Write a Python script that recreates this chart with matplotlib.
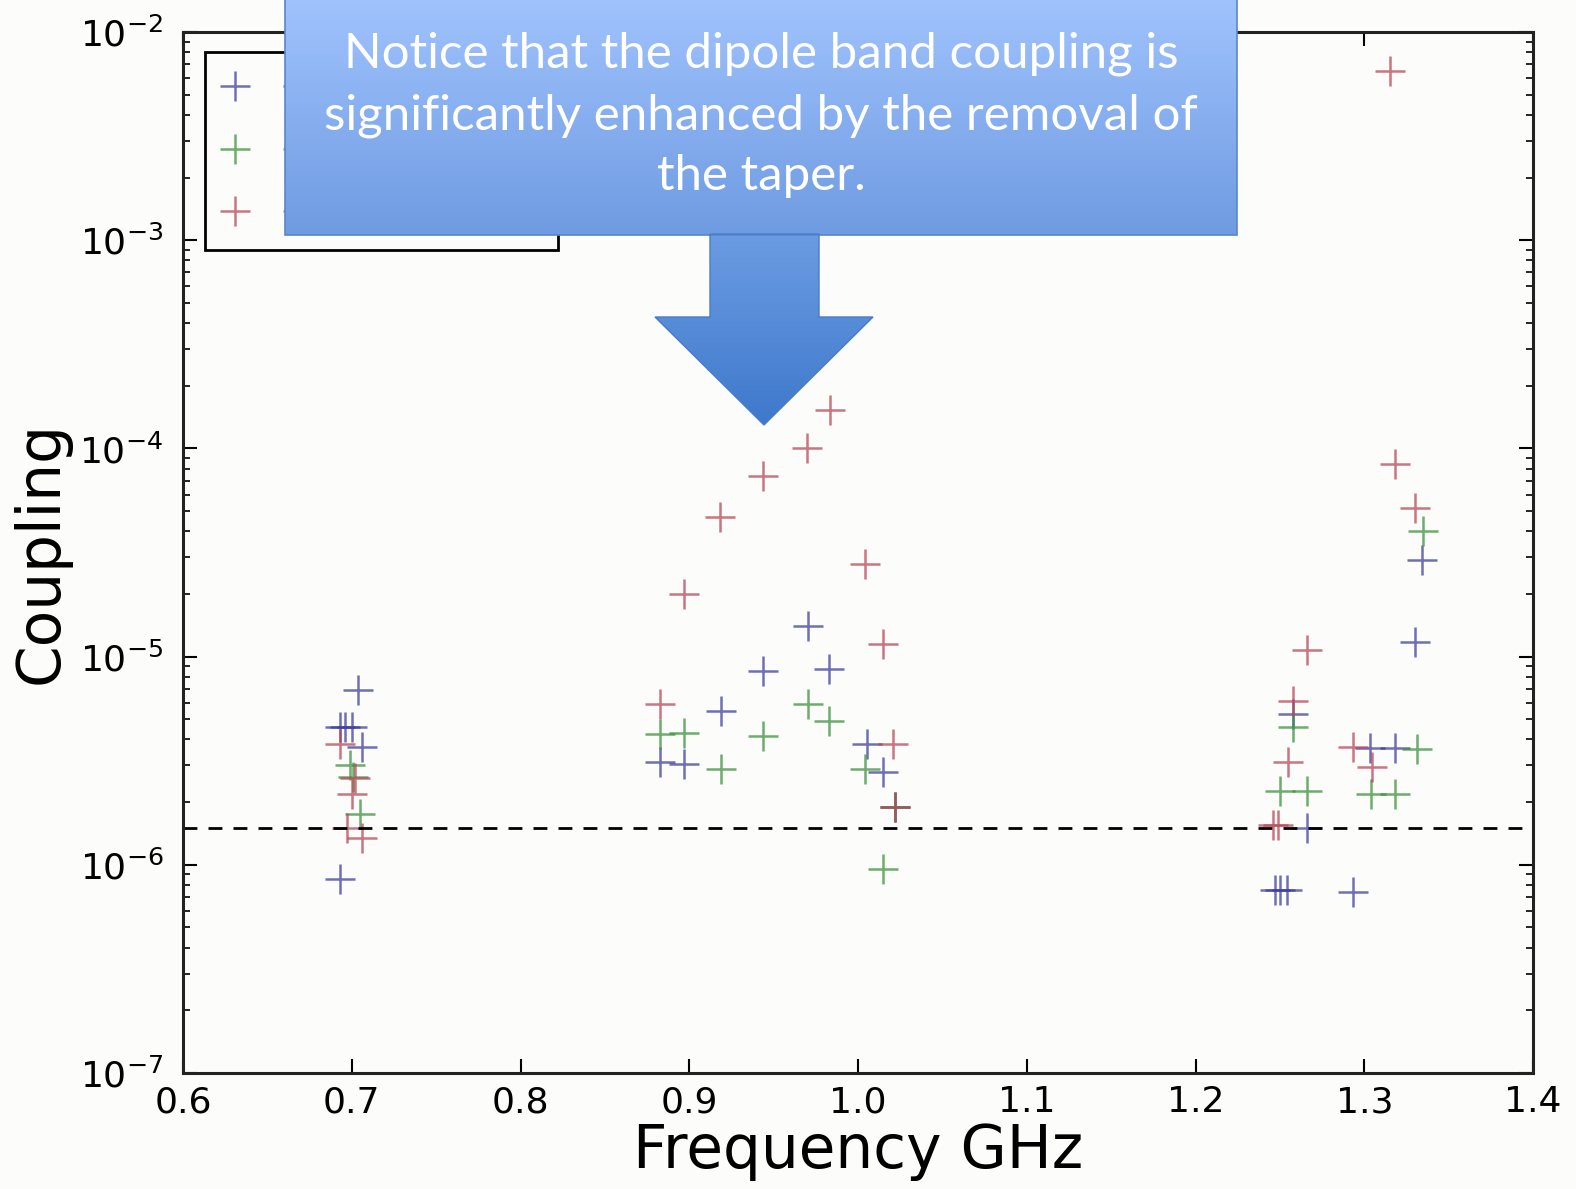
import numpy as np
import matplotlib
matplotlib.use('Agg')
import matplotlib.pyplot as plt
from matplotlib.colors import LinearSegmentedColormap
from matplotlib.patches import Polygon, Rectangle

# data (frequency GHz, coupling)
blue_f = [0.7037, 0.693, 0.696, 0.700, 0.706, 0.693,
          0.9704, 0.9437, 0.9828, 0.9188, 1.0053, 0.8827, 0.8969, 1.0148, 1.0219,
          1.3342, 1.330, 1.2578, 1.3034, 1.3182, 1.266, 1.247, 1.2501, 1.2542, 1.2933]
blue_c = [6.9e-6, 4.6e-6, 4.6e-6, 4.6e-6, 3.7e-6, 8.5e-7,
          1.4e-5, 8.5e-6, 8.7e-6, 5.5e-6, 3.8e-6, 3.1e-6, 3.05e-6, 2.8e-6, 1.9e-6,
          2.9e-5, 1.17e-5, 5.3e-6, 3.65e-6, 3.65e-6, 1.5e-6, 7.6e-7, 7.6e-7, 7.6e-7, 7.4e-7]

green_f = [0.699, 0.7007, 0.705,
           0.9704, 0.9828, 0.8827, 0.8969, 0.9437, 0.9188, 1.004, 1.0219, 1.0148,
           1.3348, 1.2578, 1.3313, 1.2501, 1.266, 1.304, 1.3182]
green_c = [3.0e-6, 2.65e-6, 1.75e-6,
           5.9e-6, 4.9e-6, 4.25e-6, 4.3e-6, 4.15e-6, 2.87e-6, 2.87e-6, 1.9e-6, 9.5e-7,
           4.0e-5, 4.6e-6, 3.6e-6, 2.25e-6, 2.25e-6, 2.2e-6, 2.2e-6]

red_f = [0.693, 0.702, 0.7001, 0.697, 0.706,
         0.9834, 0.9698, 0.9437, 0.9182, 1.004, 0.8969, 1.0148, 0.8827, 1.0207, 1.0219,
         1.3153, 1.3182, 1.330, 1.266, 1.2578, 1.2933, 1.2548, 1.3046, 1.2459, 1.2489]
red_c = [3.8e-6, 2.6e-6, 2.2e-6, 1.5e-6, 1.35e-6,
         1.53e-4, 1.0e-4, 7.4e-5, 4.7e-5, 2.8e-5, 2.0e-5, 1.15e-5, 5.9e-6, 3.8e-6, 1.9e-6,
         6.5e-3, 8.4e-5, 5.2e-5, 1.07e-5, 6.1e-6, 3.7e-6, 3.1e-6, 2.95e-6, 1.55e-6, 1.55e-6]

threshold = 1.5e-6
xticks = [0.6, 0.7, 0.8, 0.9, 1.0, 1.1, 1.2, 1.3, 1.4]

callout = ('Notice that the dipole band coupling is\n'
           'significantly enhanced by the removal of\n'
           'the taper.')

W, H = 1576, 1189
bg = '#fcfcfa'
fig = plt.figure(figsize=(W / 100, H / 100), dpi=100, facecolor=bg)
ax = fig.add_axes([183 / W, 1 - 1073 / H, (1533 - 183) / W, (1073 - 32) / H])
ax.set_facecolor(bg)

kw = dict(linestyle='none', marker='+', ms=21, mew=1.8, alpha=0.75)
lb, = ax.plot(blue_f, blue_c, color='#4040a0', **kw)
lg, = ax.plot(green_f, green_c, color='#3f923f', **kw)
lr, = ax.plot(red_f, red_c, color='#b8485a', **kw)
ax.axhline(threshold, color='black', ls=(0, (5, 4)), lw=2)

ax.set_yscale('log')
ax.set_xlim(0.6, 1.4)
ax.set_ylim(1e-7, 1e-2)
ax.set_xticks(xticks)
ax.set_xticklabels(['%.1f' % t for t in xticks])
ax.tick_params(which='both', direction='in', top=True, right=True, labelsize=26)
ax.tick_params(which='major', length=10, width=1.5)
ax.tick_params(which='minor', length=5, width=1.2)
ax.tick_params(axis='y', pad=14)
ax.tick_params(axis='x', pad=9)
for s in ax.spines.values():
    s.set_linewidth(2.2)
    s.set_color('#222222')

ax.set_xlabel('Frequency GHz', fontsize=43, labelpad=2)
ax.set_ylabel('Coupling', fontsize=43, labelpad=6)

# legend labels sit under the callout box in the original, so they are left blank
leg = ax.legend([lb, lg, lr], ['', '', ''], loc='upper left',
                bbox_to_anchor=(205 / W, 1 - 52 / H),
                bbox_transform=fig.transFigure, borderaxespad=0, numpoints=2,
                fontsize=24, labelspacing=0.88, borderpad=0.6, handlelength=2.5,
                handletextpad=6.9, fancybox=False, framealpha=1)
leg.get_frame().set_edgecolor('black')
leg.get_frame().set_linewidth(2)
leg.get_frame().set_facecolor(bg)

# callout box with arrow on top of the chart
ov = fig.add_axes([0, 0, 1, 1], zorder=10)
ov.set_xlim(0, W)
ov.set_ylim(H, 0)
ov.axis('off')
ov.patch.set_alpha(0)

grad = np.linspace(0, 1, 256).reshape(-1, 1)
box_cmap = LinearSegmentedColormap.from_list('box', ['#a0c3fd', '#6f9be2'])
ov.imshow(grad, cmap=box_cmap, extent=[285, 1237, 235, -2], aspect='auto', zorder=2)
ov.add_patch(Rectangle((285, -2), 952, 237, fill=False, ec='#5a86c8', lw=1.2, zorder=3))

arrow_pts = [(710, 234), (819, 234), (819, 317), (873, 317), (764, 425),
             (655, 317), (710, 317)]
arrow = Polygon(arrow_pts, closed=True, fc='none', ec='#4a7cc4', lw=1, zorder=3)
ov.add_patch(arrow)
arrow_cmap = LinearSegmentedColormap.from_list('arr', ['#6c9de3', '#3e78cb'])
im = ov.imshow(grad, cmap=arrow_cmap, extent=[650, 880, 428, 230], aspect='auto', zorder=2)
im.set_clip_path(arrow)

ov.text(761, 115, callout, ha='center', va='center', color='white',
        fontsize=35.5, family='Lato', linespacing=1.47, zorder=4)

fig.savefig('out.png', dpi=100, facecolor=bg)
